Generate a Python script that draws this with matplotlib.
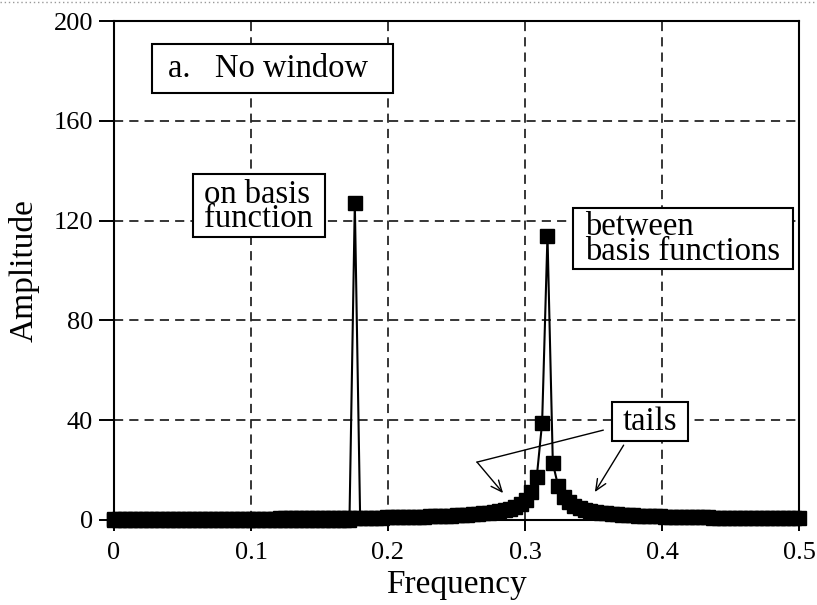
import matplotlib
matplotlib.use('Agg')
import matplotlib.pyplot as plt
from matplotlib.lines import Line2D
from matplotlib.patches import Rectangle

plt.rcParams['font.family'] = ['Liberation Serif', 'DejaVu Serif']

# ---- data ----
n_points = 256          # DFT length; bins 0..128 span frequency 0..0.5
between_bins = list(range(129))
between_amp = [
    0.38, 0.38, 0.39, 0.39, 0.40, 0.40, 0.41, 0.41, 0.42, 0.43,
    0.43, 0.44, 0.45, 0.45, 0.46, 0.47, 0.47, 0.48, 0.49, 0.50,
    0.50, 0.51, 0.52, 0.53, 0.54, 0.55, 0.56, 0.57, 0.58, 0.59,
    0.60, 0.62, 0.63, 0.64, 0.65, 0.67, 0.68, 0.70, 0.72, 0.73,
    0.75, 0.77, 0.79, 0.81, 0.83, 0.86, 0.88, 0.91, 0.93, 0.96,
    0.99, 1.03, 1.06, 1.10, 1.14, 1.19, 1.24, 1.29, 1.34, 1.41,
    1.47, 1.55, 1.63, 1.72, 1.83, 1.94, 2.08, 2.23, 2.40, 2.61,
    2.85, 3.14, 3.50, 3.95, 4.54, 5.33, 6.46, 8.19, 11.2, 17.3,
    39.0, 114.0, 22.8, 13.5, 9.35, 7.16, 5.80, 4.87, 4.20, 3.70,
    3.30, 2.98, 2.71, 2.49, 2.30, 2.14, 2.00, 1.88, 1.77, 1.67,
    1.59, 1.51, 1.44, 1.37, 1.31, 1.26, 1.21, 1.16, 1.12, 1.08,
    1.04, 1.01, 0.98, 0.95, 0.92, 0.89, 0.87, 0.84, 0.82, 0.80,
    0.78, 0.76, 0.74, 0.72, 0.71, 0.69, 0.68, 0.66, 0.65,
]
on_bins = list(range(47))
on_amp = [0.0] * 45 + [127.0] + [0.0]

x_ticks = [0, 0.1, 0.2, 0.3, 0.4, 0.5]
x_tick_labels = ['0', '0.1', '0.2', '0.3', '0.4', '0.5']
y_ticks = [0, 40, 80, 120, 160, 200]
y_tick_labels = ['0', '40', '80', '120', '160', '200']

between_freq = [k / n_points for k in between_bins]
on_freq = [k / n_points for k in on_bins]

# ---- figure ----
fig = plt.figure(figsize=(8.17, 6.05), dpi=100)
ax = fig.add_axes([114 / 817, 1 - 520 / 605, (799 - 114) / 817, (520 - 21) / 605])

ax.set_xlim(0, 0.5)
ax.set_ylim(0, 200)
ax.set_xticks(x_ticks)
ax.set_xticklabels(x_tick_labels)
ax.set_yticks(y_ticks)
ax.set_yticklabels(y_tick_labels)

ax.grid(True, linestyle=(0, (6, 4)), color='black', linewidth=1.1, zorder=0)
ax.set_axisbelow(True)
for s in ax.spines.values():
    s.set_linewidth(1.5)
    s.set_zorder(2.5)

ax.tick_params(axis='both', direction='out', width=1.4, labelsize=19, colors='black')
ax.tick_params(axis='x', length=8, pad=8)
ax.tick_params(axis='y', length=11, pad=4)

ax.plot(on_freq, on_amp, color='black', lw=1.5, marker='s', ms=9.5,
        markevery=list(range(46)), clip_on=False, zorder=3)
ax.plot(between_freq, between_amp, color='black', lw=1.5, marker='s', ms=9.5,
        clip_on=False, zorder=3)

ax.set_xlabel('Frequency', fontsize=24, labelpad=4)
ax.set_ylabel('Amplitude', fontsize=24, labelpad=10)


def label_box(x0, x1, y0, y1):
    ax.add_patch(Rectangle((x0, y0), x1 - x0, y1 - y0, fc='white', ec='black',
                           lw=1.5, zorder=4.5))


label_box(0.0277, 0.2036, 171.2, 190.8)
ax.text(0.0394, 181, 'a.   No window', ha='left', va='center', fontsize=23.5, zorder=5)

label_box(0.0577, 0.1540, 113.6, 138.8)
ax.text(0.0657, 125.6, 'on basis\nfunction', ha='left', va='center', multialignment='left',
        fontsize=23.5, linespacing=0.72, zorder=5)

label_box(0.3350, 0.4956, 100.8, 125.2)
ax.text(0.3438, 112.6, 'between\nbasis functions', ha='left', va='center', multialignment='left',
        fontsize=23.5, linespacing=0.75, zorder=5)

label_box(0.3635, 0.4190, 31.6, 47.2)
ax.text(0.3912, 39.4, 'tails', ha='center', va='center', fontsize=23.5, zorder=5)

# tails pointers
ax.plot([0.357, 0.265], [36, 23.2], color='black', lw=1.0, zorder=4)
arrow = dict(arrowstyle='->,head_length=0.8,head_width=0.35', color='black', lw=1.0,
             shrinkA=0, shrinkB=0)
ax.annotate('', xy=(0.284, 10.8), xytext=(0.265, 23.2), arrowprops=arrow, zorder=4)
ax.annotate('', xy=(0.351, 11.2), xytext=(0.372, 30.0), arrowprops=arrow, zorder=4)

fig.add_artist(Line2D([0, 1], [0.997, 0.997], transform=fig.transFigure,
                      linestyle=(0, (1, 2)), color='#999999', lw=1.0))

fig.savefig('out.png', dpi=100)
